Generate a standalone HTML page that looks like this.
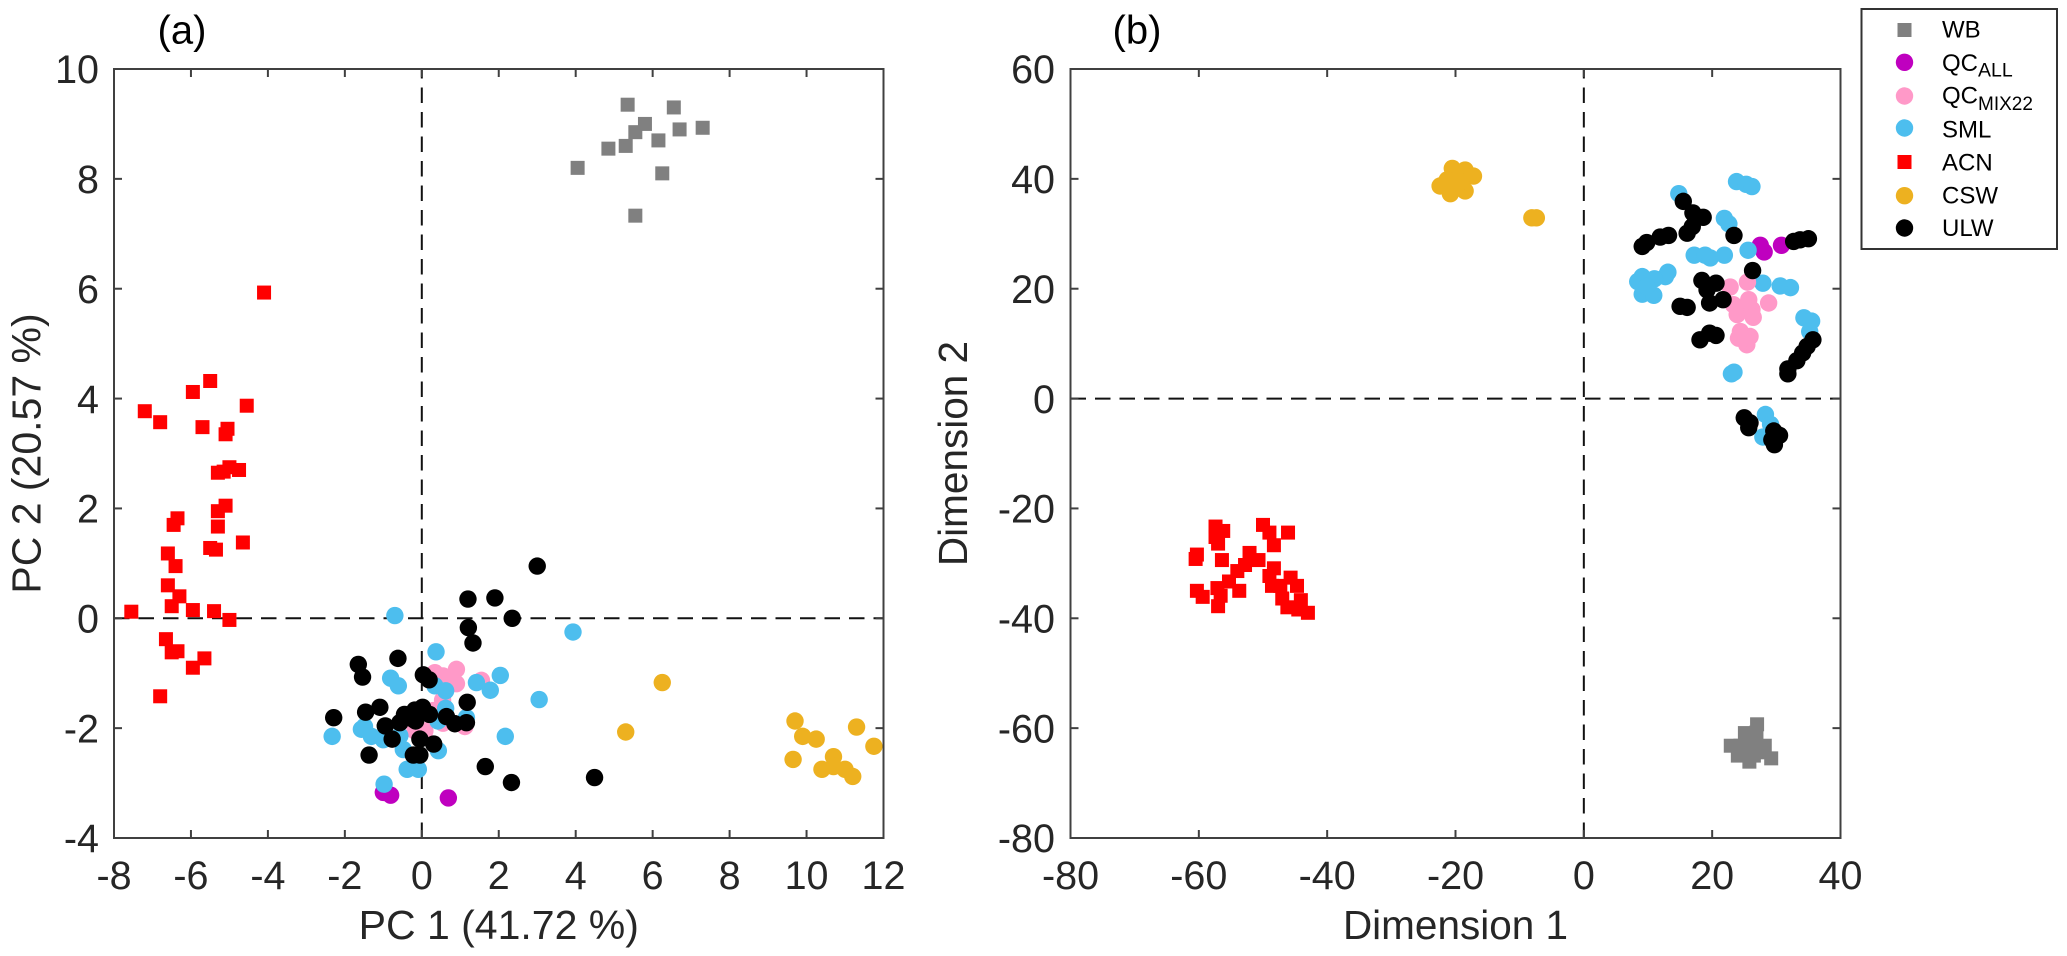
<!DOCTYPE html>
<html>
<head>
<meta charset="utf-8">
<title>PCA and t-SNE score plots</title>
<style>
html,body{margin:0;padding:0;background:#fff;}
svg{display:block;font-family:"Liberation Sans",Arial,sans-serif;}
</style>
</head>
<body>
<svg id="chart" width="2067" height="956" viewBox="0 0 2067 956" xmlns="http://www.w3.org/2000/svg">
  <rect x="0" y="0" width="2067" height="956" fill="#fff"/>
  <g id="panelA"></g>
  <g id="panelB"></g>
  <g>
    <rect x="1861.5" y="9" width="195.5" height="240" fill="#fff" stroke="#333" stroke-width="2"/>
    <g>
      <rect x="1897.5" y="23" width="14" height="14" fill="#808080"/>
      <text x="1942" y="37.7" font-size="24" fill="#000">WB</text>
    </g>
    <g>
      <circle cx="1904.5" cy="62.3" r="8.7" fill="#bf00bf"/>
      <text x="1942" y="71" font-size="24" fill="#000">QC<tspan font-size="19.5" dy="5.7">ALL</tspan></text>
    </g>
    <g>
      <circle cx="1904.5" cy="96" r="8.7" fill="#ff99c8"/>
      <text x="1942" y="103.5" font-size="24" fill="#000">QC<tspan font-size="19" dy="6.5">MIX22</tspan></text>
    </g>
    <g>
      <circle cx="1904.5" cy="128" r="8.7" fill="#4dbeee"/>
      <text x="1942" y="137.5" font-size="24" fill="#000">SML</text>
    </g>
    <g>
      <rect x="1897.5" y="155" width="14" height="14" fill="#ff0000"/>
      <text x="1942" y="170.7" font-size="24" fill="#000">ACN</text>
    </g>
    <g>
      <circle cx="1904.5" cy="195.7" r="8.7" fill="#edb120"/>
      <text x="1942" y="203.7" font-size="24" fill="#000">CSW</text>
    </g>
    <g>
      <circle cx="1904.5" cy="228" r="8.7" fill="#000"/>
      <text x="1942" y="236" font-size="24" fill="#000">ULW</text>
    </g>
  </g>
</svg>
<script>
// Panel (a) axis ticks
const aXTicks = [-8,-6,-4,-2,0,2,4,6,8,10,12];
const aYTicks = [-4,-2,0,2,4,6,8,10];
// Panel (b) axis ticks
const bXTicks = [-80,-60,-40,-20,0,20,40];
const bYTicks = [-80,-60,-40,-20,0,20,40,60];

// Panel (a) series values: [PC1, PC2]
const aWB = [[4.05,8.2],[4.85,8.55],[5.3,8.6],[5.35,9.35],[5.55,8.85],[5.8,9.0],[6.15,8.7],[6.25,8.1],[6.55,9.3],[6.7,8.9],[7.3,8.93],[5.55,7.33]];
const aQCALL = [[-1.0,-3.17],[-0.81,-3.22],[0.69,-3.27]];
const aMIX22 = [[0.34,-0.99],[0.55,-1.05],[0.9,-0.93],[0.73,-1.08],[0.9,-1.19],[1.55,-1.13],[0.54,-1.49],[-0.18,-2.05],[0.08,-2.05],[0.3,-1.68],[1.12,-1.97],[0.55,-1.91]];
const aSML = [[-0.7,0.05],[3.93,-0.25],[0.37,-0.61],[-0.81,-1.09],[-0.61,-1.23],[2.04,-1.04],[1.42,-1.17],[1.78,-1.31],[3.05,-1.48],[0.62,-1.32],[0.34,-1.23],[0.62,-1.64],[1.16,-1.81],[0.42,-1.87],[-2.33,-2.15],[2.17,-2.15],[-1.57,-2.02],[-1.49,-1.97],[-1.31,-2.15],[-1.0,-2.21],[-0.57,-2.14],[-0.48,-2.39],[0.43,-2.41],[-0.38,-2.75],[-0.09,-2.75],[-0.98,-3.02]];
const aACN = [[-4.1,5.93],[-7.2,3.77],[-6.8,3.57],[-5.95,4.12],[-5.5,4.32],[-4.55,3.87],[-5.7,3.48],[-5.05,3.45],[-5.1,3.35],[-5.3,2.65],[-5.15,2.67],[-5.0,2.75],[-4.75,2.7],[-5.1,2.05],[-5.3,1.95],[-5.3,1.67],[-6.35,1.82],[-6.45,1.7],[-6.6,1.18],[-5.5,1.28],[-5.35,1.25],[-4.65,1.38],[-6.6,0.6],[-6.3,0.4],[-6.4,0.95],[-6.5,0.22],[-5.95,0.15],[-5.4,0.13],[-5.0,-0.03],[-7.55,0.12],[-6.65,-0.38],[-6.35,-0.6],[-6.5,-0.62],[-5.65,-0.73],[-5.95,-0.9],[-6.8,-1.42]];
const aCSW = [[6.25,-1.17],[5.3,-2.07],[9.7,-1.87],[9.65,-2.57],[9.9,-2.15],[10.25,-2.2],[11.3,-1.98],[11.75,-2.33],[10.4,-2.75],[10.7,-2.52],[10.7,-2.7],[11,-2.75],[11.2,-2.88]];
const aULW = [[3.0,0.95],[1.2,0.35],[1.9,0.37],[2.35,0.0],[1.21,-0.17],[1.33,-0.45],[-0.62,-0.73],[-1.65,-0.84],[-1.54,-1.07],[0.04,-1.03],[0.19,-1.12],[1.18,-1.53],[-2.29,-1.81],[-1.46,-1.71],[-1.09,-1.62],[-0.95,-1.96],[-0.57,-1.9],[-0.45,-1.75],[-0.18,-1.67],[0.02,-1.62],[-0.22,-1.84],[-0.16,-1.87],[0.2,-1.75],[0.64,-1.79],[0.86,-1.92],[1.16,-1.9],[-0.77,-2.2],[-0.05,-2.2],[0.31,-2.29],[-1.37,-2.49],[-0.22,-2.49],[-0.05,-2.49],[1.65,-2.7],[2.33,-2.99],[4.49,-2.9]];

// Panel (b) series values: [Dimension 1, Dimension 2]
const bWB = [[22.9,-63.2],[24.4,-63.2],[25.1,-60.9],[24,-65],[25.8,-66.1],[29.2,-65.5],[28.2,-63.2],[28,-64.4],[26.2,-63.2],[26.9,-60.8],[27,-59.3],[26.5,-65],[25.5,-64.5],[25.8,-62]];
const bQCALL = [[27.5,27.9],[28.1,26.7],[30.8,27.9]];
const bMIX22 = [[22.8,20.3],[25.5,21.2],[28.8,17.4],[25.7,18],[23.3,17.1],[24.4,16.2],[23.9,15.3],[26.2,16.2],[26.4,14.8],[24.4,12.2],[25.9,11.3],[24.1,11],[25.4,9.8],[24.9,11]];
const bSML = [[14.8,37.3],[23.8,39.5],[25.3,39],[26.2,38.6],[21.9,32.8],[22.6,31.8],[25.6,27],[17.2,26.1],[18.9,26.1],[19.7,25.6],[21.9,26.1],[27.9,21],[30.6,20.5],[32.2,20.2],[13.1,23],[12.7,22.2],[11,21.8],[9.1,22.2],[8.4,21.3],[9.1,19],[10.9,18.8],[9.8,20.4],[34.3,14.7],[35.5,14.1],[35.2,12.2],[23.4,4.8],[23,4.5],[28.3,-2.9],[29.1,-4.7],[27.9,-7]];
const bACN = [[-57.4,-23.3],[-56.2,-24.1],[-57.4,-25.2],[-57,-26.4],[-60.3,-28.4],[-60.5,-29.2],[-56.4,-29.4],[-50,-23],[-49,-24.4],[-46.1,-24.4],[-48.3,-26.7],[-52.1,-28.1],[-50.7,-29.4],[-52.8,-30.3],[-54,-31.4],[-55.3,-33.3],[-60.3,-35],[-59.4,-36.1],[-57.1,-34.5],[-53.7,-35],[-56.6,-35.9],[-57,-37.8],[-48.3,-30.9],[-49,-32.3],[-48.6,-34.1],[-45.7,-32.6],[-44.7,-34.1],[-47.3,-34.1],[-47,-36.4],[-44.1,-36.7],[-46.2,-38],[-44.5,-38.4],[-43,-39]];
const bCSW = [[-20.5,41.9],[-18.5,41.6],[-17.2,40.5],[-22.4,38.7],[-21.3,39.8],[-20.8,37.3],[-18.5,37.8],[-19.2,39.5],[-20.3,39.2],[-8.1,32.9],[-7.4,32.9]];
const bULW = [[15.5,35.9],[17,33.8],[18.6,33],[16.9,31.3],[16.1,30.1],[9.1,27.7],[9.8,28.4],[11.9,29.4],[13.2,29.7],[23.4,29.7],[32.7,28.6],[33.7,28.9],[35,29.1],[26.3,23.3],[18.4,21.5],[20.6,21],[19.2,19.8],[21.7,18],[19.6,17.4],[15,16.8],[16.1,16.6],[19.6,11.9],[20.6,11.5],[18.1,10.7],[35.7,10.7],[34.8,9.5],[34.1,8.3],[33.2,6.9],[31.8,5.4],[31.8,4.5],[25,-3.5],[25.9,-4.4],[25.7,-5.3],[29.6,-5.9],[30.5,-6.7],[29.7,-8.4],[29.3,-7.5]];

const NS = 'http://www.w3.org/2000/svg';
const FRAME_TOP = 69, FRAME_BOTTOM = 838;

function svgEl(parent, tag, attrs, text) {
  const el = document.createElementNS(NS, tag);
  for (const k in attrs) el.setAttribute(k, attrs[k]);
  if (text !== undefined) el.textContent = text;
  parent.appendChild(el);
  return el;
}

function scale(d0, d1, r0, r1) {
  return function (v) { return r0 + (v - d0) * (r1 - r0) / (d1 - d0); };
}

function drawSquares(g, pts, xS, yS, fill, seriesName) {
  pts.forEach(function (p) {
    const el = svgEl(g, 'rect', {x: xS(p[0]) - 7, y: yS(p[1]) - 7, width: 14, height: 14, fill: fill});
    
    
  });
}

function drawCircles(g, pts, xS, yS, fill, seriesName) {
  pts.forEach(function (p) {
    const el = svgEl(g, 'circle', {cx: xS(p[0]), cy: yS(p[1]), r: 8.7, fill: fill});
    
    
  });
}

function drawAxes(g, left, right, xTicks, yTicks, xS, yS, xTitle, yTitle, yTitleX, labelRight, panelText, panelX, titleSize) {
  const tick = '#404040', ink = '#262626';
  // dashed zero lines
  const zh = svgEl(g, 'line', {x1: left, x2: right, y1: yS(0), y2: yS(0), stroke: '#111', 'stroke-width': 2, 'stroke-dasharray': '15.5 9'});
  
  
  const zv = svgEl(g, 'line', {x1: xS(0), x2: xS(0), y1: FRAME_BOTTOM, y2: FRAME_TOP, stroke: '#111', 'stroke-width': 2, 'stroke-dasharray': '15.5 9'});
  
  

  xTicks.forEach(function (t) {
    const x = xS(t);
    if (t !== xTicks[0] && t !== xTicks[xTicks.length - 1]) {
      const tb = svgEl(g, 'line', {x1: x, x2: x, y1: FRAME_BOTTOM, y2: FRAME_BOTTOM - 8, stroke: tick, 'stroke-width': 2});
      
      
      const tt = svgEl(g, 'line', {x1: x, x2: x, y1: FRAME_TOP, y2: FRAME_TOP + 8, stroke: tick, 'stroke-width': 2});
      
      
    }
    const lab = svgEl(g, 'text', {x: x, y: 889, 'text-anchor': 'middle', 'font-size': 39.5, fill: ink}, String(t));
    
    
  });

  yTicks.forEach(function (t) {
    const y = yS(t);
    if (t !== yTicks[0] && t !== yTicks[yTicks.length - 1]) {
      const tl = svgEl(g, 'line', {x1: left, x2: left + 8, y1: y, y2: y, stroke: tick, 'stroke-width': 2});
      
      
      const tr = svgEl(g, 'line', {x1: right, x2: right - 8, y1: y, y2: y, stroke: tick, 'stroke-width': 2});
      
      
    }
    const lab = svgEl(g, 'text', {x: labelRight, y: y + 14.2, 'text-anchor': 'end', 'font-size': 39.5, fill: ink}, String(t));
    
    
  });

  const xt = svgEl(g, 'text', {x: (left + right) / 2, y: 939, 'text-anchor': 'middle', 'font-size': titleSize, fill: ink}, xTitle);
  
  
  const yMid = (FRAME_TOP + FRAME_BOTTOM) / 2;
  const yt = svgEl(g, 'text', {x: yTitleX, y: yMid, 'text-anchor': 'middle', 'font-size': titleSize, fill: ink, transform: 'rotate(-90 ' + yTitleX + ' ' + yMid + ')'}, yTitle);
  
  
  const pt = svgEl(g, 'text', {x: panelX, y: 43.5, 'text-anchor': 'middle', 'font-size': 40, fill: '#000'}, panelText);
  
  
}

function drawFrame(g, left, right) {
  const f = svgEl(g, 'rect', {x: left, y: FRAME_TOP, width: right - left, height: FRAME_BOTTOM - FRAME_TOP, fill: 'none', stroke: '#404040', 'stroke-width': 2});
  
  
}

// Panel (a)
(function () {
  const g = document.getElementById('panelA');
  const left = 114, right = 883.5;
  const xS = scale(-8, 12, left, right);
  const yS = scale(-4, 10, FRAME_BOTTOM, FRAME_TOP);
  drawAxes(g, left, right, aXTicks, aYTicks, xS, yS, 'PC 1 (41.72 %)', 'PC 2 (20.57 %)', 40.5, 99, '(a)', 182, 41);
  drawSquares(g, aWB, xS, yS, '#808080', 'wb');
  drawCircles(g, aQCALL, xS, yS, '#bf00bf', 'qc-all');
  drawCircles(g, aMIX22, xS, yS, '#ff99c8', 'qc-mix22');
  drawCircles(g, aSML, xS, yS, '#4dbeee', 'sml');
  drawSquares(g, aACN, xS, yS, '#ff0000', 'acn');
  drawCircles(g, aCSW, xS, yS, '#edb120', 'csw');
  drawCircles(g, aULW, xS, yS, '#000000', 'ulw');
  drawFrame(g, left, right);
})();

// Panel (b)
(function () {
  const g = document.getElementById('panelB');
  const left = 1070.5, right = 1840.5;
  const xS = scale(-80, 40, left, right);
  const yS = scale(-80, 60, FRAME_BOTTOM, FRAME_TOP);
  drawAxes(g, left, right, bXTicks, bYTicks, xS, yS, 'Dimension 1', 'Dimension 2', 967, 1055, '(b)', 1137, 40.5);
  drawSquares(g, bWB, xS, yS, '#808080', 'wb');
  drawCircles(g, bQCALL, xS, yS, '#bf00bf', 'qc-all');
  drawCircles(g, bSML, xS, yS, '#4dbeee', 'sml');
  drawCircles(g, bMIX22, xS, yS, '#ff99c8', 'qc-mix22');
  drawSquares(g, bACN, xS, yS, '#ff0000', 'acn');
  drawCircles(g, bCSW, xS, yS, '#edb120', 'csw');
  drawCircles(g, bULW, xS, yS, '#000000', 'ulw');
  drawFrame(g, left, right);
})();
</script>
</body>
</html>
